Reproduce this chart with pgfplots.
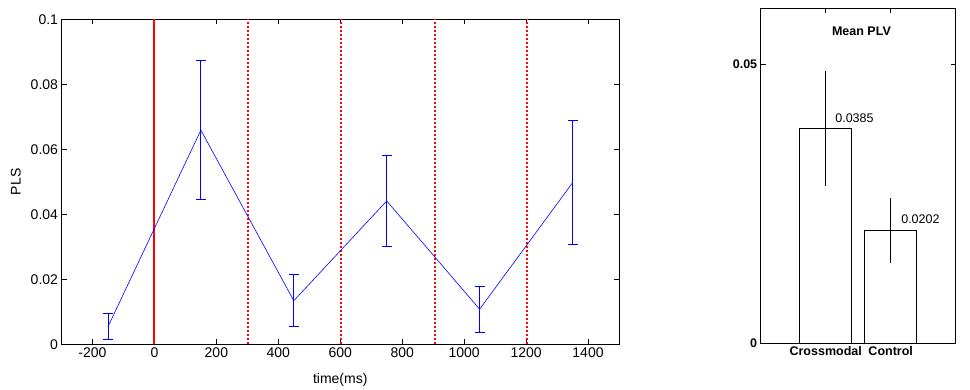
\documentclass[border=0pt]{standalone}
\usepackage{fontspec}
\setmainfont{Liberation Sans}
\usepackage{pgfplots}
\pgfplotsset{compat=1.18}
\usepackage{pgfplotstable}
\pgfplotstableread{
x y e
-150 0.0054 0.0040
150 0.0659 0.0213
450 0.0134 0.0080
750 0.0441 0.0139
1050 0.0108 0.0070
1350 0.0497 0.0191
}\plsdata
\begin{document}
\begin{tikzpicture}
\useasboundingbox (0,0) rectangle (970pt,390pt);
\begin{axis}[at={(61.5pt,45.7pt)}, anchor=south west, scale only axis,
  width=557.5pt, height=325pt,
  xmin=-300, xmax=1500, ymin=0, ymax=0.1,
  scaled x ticks=false, scaled y ticks=false,
  xtick={-200,0,200,400,600,800,1000,1200,1400},
  xticklabels={-200,0,200,400,600,800,1000,1200,1400},
  ytick={0,0.02,0.04,0.06,0.08,0.1},
  yticklabels={0,0.02,0.04,0.06,0.08,0.1},
  /pgf/number format/assume math mode=true,
  tick align=inside, major tick length=5pt, tick style={black, line width=0.5pt},
  axis line style={line width=0.8pt},
  ticklabel style={font=\fontsize{14}{15}\selectfont},
  label style={font=\fontsize{14}{15}\selectfont},
  xlabel={time(ms)}, ylabel={PLS},
  xlabel style={at={(axis description cs:0.5,-0.11)}, anchor=center},
  ylabel style={at={(axis description cs:-0.082,0.5)}, anchor=center},
  clip=false]
\addplot[red, line width=2pt] coordinates {(0,0) (0,0.1)};
\addplot[red, line width=1.6pt, dash pattern=on 2pt off 2pt] coordinates {(303,0) (303,0.1)};
\addplot[red, line width=1.6pt, dash pattern=on 2pt off 2pt] coordinates {(603,0) (603,0.1)};
\addplot[red, line width=1.6pt, dash pattern=on 2pt off 2pt] coordinates {(905,0) (905,0.1)};
\addplot[red, line width=1.6pt, dash pattern=on 2pt off 2pt] coordinates {(1203,0) (1203,0.1)};
\addplot[blue, line width=0.6pt, mark=none,
  error bars/.cd, y dir=both, y explicit,
  error bar style={blue, line width=0.8pt},
  error mark options={rotate=90, mark size=5pt, blue, line width=0.8pt}]
  table[x=x, y=y, y error=e] {\plsdata};
\end{axis}
\begin{axis}[at={(760.7pt,46.7pt)}, anchor=south west, scale only axis,
  width=195pt, height=335pt,
  xmin=0, xmax=3, ymin=0, ymax=0.06,
  scaled x ticks=false, scaled y ticks=false,
  xtick={1,2}, xticklabels={Crossmodal,Control},
  ytick={0,0.05}, yticklabels={0,0.05},
  /pgf/number format/assume math mode=true,
  tick align=inside, major tick length=5pt, tick style={black, line width=0.5pt},
  axis line style={line width=0.8pt},
  ticklabel style={font=\bfseries\fontsize{12.5}{13}\selectfont},
  clip=false]
\addplot[ybar, bar width=0.8, fill=white, draw=black, line width=0.8pt,
  error bars/.cd, y dir=both, y explicit, error mark=none,
  error bar style={black, line width=0.8pt}]
  coordinates {(1,0.0385) +- (0,0.0103) (2,0.0202) +- (0,0.0058)};
\node[anchor=base west, inner sep=0, font=\fontsize{12.5}{13}\selectfont] at (axis cs:1.145,0.0396) {0.0385};
\node[anchor=base west, inner sep=0, font=\fontsize{12.5}{13}\selectfont] at (axis cs:2.16,0.0215) {0.0202};
\node[anchor=north, inner sep=0, font=\bfseries\fontsize{12.5}{13}\selectfont, yshift=-18pt] at (axis cs:1.55,0.06) {Mean PLV};
\end{axis}
\end{tikzpicture}
\end{document}
